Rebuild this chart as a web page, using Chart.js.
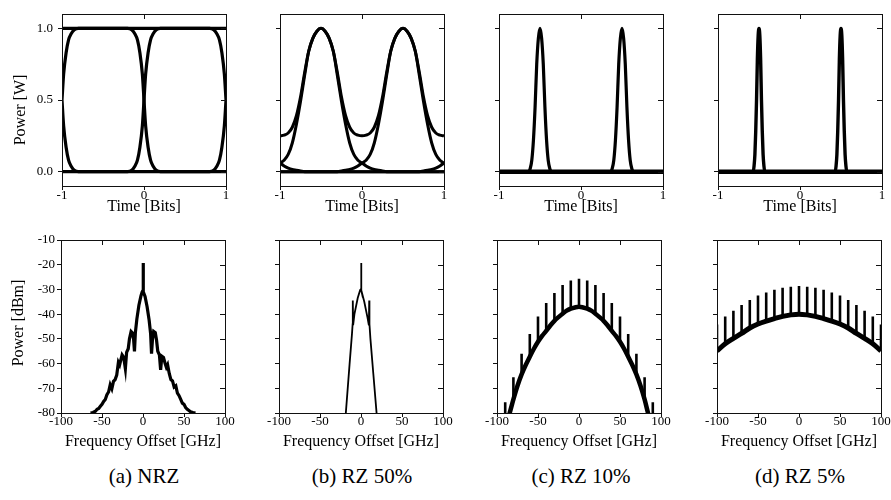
<!DOCTYPE html>
<html lang="en">
<head>
<meta charset="UTF-8">
<title>Eye diagrams and spectra</title>
<script src="https://cdn.jsdelivr.net/npm/chart.js"></script>
<style>
  body { margin: 0; width: 891px; height: 500px; position: relative; overflow: hidden; background: #fff; font-family: 'Liberation Serif', serif; }
  canvas { position: absolute; }
  .cap { position: absolute; top: 463px; width: 200px; text-align: center; font-size: 21px; line-height: 26px; color: #000; }
</style>
</head>
<body>
<div class="cap" style="left:44px">(a) NRZ</div>
<div class="cap" style="left:262px">(b) RZ 50%</div>
<div class="cap" style="left:481px">(c) RZ 10%</div>
<div class="cap" style="left:700px">(d) RZ 5%</div>
<script>
// ---- eye diagrams: power [W] vs time [bits] ----
const nrzTime = [-1, -0.98, -0.95, -0.92, -0.89, -0.85, -0.8, -0.2, -0.15, -0.11, -0.08, -0.05, -0.02, 0,
  0.02, 0.05, 0.08, 0.11, 0.15, 0.2, 0.8, 0.85, 0.89, 0.92, 0.95, 0.98, 1];
const nrzRise = [0.5, 0.68, 0.83, 0.92, 0.96, 0.99, 1, 1, 0.99, 0.96, 0.92, 0.83, 0.68, 0.5,
  0.32, 0.17, 0.08, 0.04, 0.01, 0, 0, 0.01, 0.04, 0.08, 0.17, 0.32, 0.5];
const nrzFall = [0.5, 0.32, 0.17, 0.08, 0.04, 0.01, 0, 0, 0.01, 0.04, 0.08, 0.17, 0.32, 0.5,
  0.68, 0.83, 0.92, 0.96, 0.99, 1, 1, 0.99, 0.96, 0.92, 0.83, 0.68, 0.5];

const rz50Time = [-1, -0.95, -0.9, -0.85, -0.8, -0.75, -0.7, -0.65, -0.6, -0.55, -0.5, -0.45, -0.4, -0.35,
  -0.3, -0.25, -0.2, -0.15, -0.1, -0.05, 0, 0.05, 0.1, 0.15, 0.2, 0.25, 0.3, 0.35, 0.4, 0.45, 0.5,
  0.55, 0.6, 0.65, 0.7, 0.75, 0.8, 0.85, 0.9, 0.95, 1];
const rz50Ones = [0.25, 0.255, 0.27, 0.31, 0.39, 0.52, 0.69, 0.84, 0.93, 0.98, 1, 0.98, 0.93, 0.84,
  0.69, 0.52, 0.39, 0.31, 0.27, 0.255, 0.25, 0.255, 0.27, 0.31, 0.39, 0.52, 0.69, 0.84, 0.93, 0.98, 1,
  0.98, 0.93, 0.84, 0.69, 0.52, 0.39, 0.31, 0.27, 0.255, 0.25];
const rz50First = [0.06, 0.08, 0.12, 0.2, 0.33, 0.49, 0.67, 0.84, 0.93, 0.98, 1, 0.98, 0.93, 0.84,
  0.67, 0.49, 0.33, 0.2, 0.12, 0.08, 0.06, 0.04, 0.025, 0.015, 0.01, 0.005, 0, 0, 0, 0, 0,
  0, 0, 0, 0, 0, 0, 0, 0, 0, 0];
const rz50Second = [0, 0, 0, 0, 0, 0, 0, 0, 0, 0, 0, 0, 0, 0, 0, 0.005, 0.01, 0.015, 0.025, 0.04,
  0.06, 0.08, 0.12, 0.2, 0.33, 0.49, 0.67, 0.84, 0.93, 0.98, 1, 0.98, 0.93, 0.84, 0.67, 0.49,
  0.33, 0.2, 0.12, 0.08, 0.06];
const rz50Tails = [0.06, 0.04, 0.025, 0.015, 0.01, 0.005, 0, 0, 0, 0, 0, 0, 0, 0, 0, 0, 0, 0, 0, 0,
  0, 0, 0, 0, 0, 0, 0, 0, 0, 0, 0, 0, 0, 0, 0, 0.005, 0.01, 0.015, 0.025, 0.04, 0.06];

const rz10Time = [-1, -0.64, -0.62, -0.6, -0.58, -0.56, -0.54, -0.52, -0.5, -0.48, -0.46, -0.44, -0.42,
  -0.4, -0.38, -0.36, 0.36, 0.38, 0.4, 0.42, 0.44, 0.46, 0.48, 0.5, 0.52, 0.54, 0.56, 0.58, 0.6,
  0.62, 0.64, 1];
const rz10Pulse = [0, 0, 0.02, 0.08, 0.22, 0.45, 0.75, 0.93, 1, 0.93, 0.75, 0.45, 0.22, 0.08, 0.02, 0,
  0, 0.02, 0.08, 0.22, 0.45, 0.75, 0.93, 1, 0.93, 0.75, 0.45, 0.22, 0.08, 0.02, 0, 0];

const rz5Time = [-1, -0.57, -0.56, -0.55, -0.54, -0.53, -0.52, -0.51, -0.5, -0.49, -0.48, -0.47, -0.46,
  -0.45, -0.44, -0.43, 0.43, 0.44, 0.45, 0.46, 0.47, 0.48, 0.49, 0.5, 0.51, 0.52, 0.53, 0.54, 0.55,
  0.56, 0.57, 1];
const rz5Pulse = [0, 0, 0.04, 0.12, 0.28, 0.5, 0.78, 0.95, 1, 0.95, 0.78, 0.5, 0.28, 0.12, 0.04, 0,
  0, 0.04, 0.12, 0.28, 0.5, 0.78, 0.95, 1, 0.95, 0.78, 0.5, 0.28, 0.12, 0.04, 0, 0];

// ---- spectra: power [dBm] vs frequency offset [GHz] ----
const nrzFreq = [-64, -61, -58, -56, -54, -52, -50, -48, -46, -44, -42, -40, -38, -36, -34, -32, -30,
  -28.5, -27, -25.5, -23.5, -21.5, -20, -18, -16.5, -14.5, -13, -11.5, -10.4, -9.3, -7.5, -5, -2.5, -1,
  0, 0, 0, 1, 2.5, 5, 7.5, 9.3, 10.4, 11.5, 13, 15, 16.5, 18, 20, 21.5, 23, 25, 27, 28.5, 30, 32, 34,
  36, 38, 40, 42, 44, 46, 48, 50, 52, 54, 56, 58, 61, 64];
const nrzPower = [-80, -79.8, -79.3, -78.5, -78.2, -77.3, -76.5, -75.3, -74.5, -72.6, -71.5, -68.6, -70.2,
  -67.2, -66.5, -64.6, -59.5, -60.5, -58.5, -56.5, -57.5, -62, -55.5, -54, -50, -47, -47.5, -50, -55.1,
  -47.5, -42, -36.4, -32.6, -31, -30.4, -19.3, -30.4, -31, -32.8, -37, -42.5, -48, -56, -50.5, -47,
  -47.5, -50.5, -55, -56.5, -62.5, -57, -57.5, -60, -61.5, -60.5, -64, -66.5, -67, -69.5, -69, -72,
  -73, -74.5, -76, -76.5, -77.8, -78.5, -79, -79.5, -79.8, -80];

const rz50Freq = [-18.5, -14, -11, -10.2, -10, -9.6, -8, -4, -1, 0, 0, 0, 1, 4, 8, 9.6, 10, 10.3, 11.5, 15, 19];
const rz50Power = [-80, -60.5, -48, -44, -34.5, -44.5, -40, -33.5, -30.2, -29.8, -19.3, -29.8, -30.3, -35,
  -41.5, -44.5, -34.5, -44, -50, -64, -80];

const rz10EnvFreq = [-90, -85, -80, -75, -70, -65, -60, -55, -50, -45, -40, -35, -30, -25, -20, -15, -10,
  -5, 0, 5, 10, 15, 20, 25, 30, 35, 40, 45, 50, 55, 60, 65, 70, 75, 80, 85, 90];
const rz10EnvPower = [-85, -80.5, -74.5, -69, -64.4, -60.6, -57.2, -54, -51.2, -48.8, -46.8, -44.6, -42.7,
  -41.2, -39.8, -38.6, -37.8, -37.3, -37, -37.3, -37.8, -38.6, -39.8, -41.2, -42.7, -44.6, -46.8, -48.8,
  -51.2, -54, -57.2, -60.6, -64.4, -69, -74.5, -81, -85.5];
const rz10CombFreq = [-90, -80, -70, -60, -50, -40, -30, -20, -10, 0, 10, 20, 30, 40, 50, 60, 70, 80, 90];
const rz10CombPower = [-75.7, -65.5, -56, -48, -41, -35.5, -31.4, -28.2, -26.4, -25.7, -26.4, -28.2, -31.4,
  -35.5, -41, -48, -56, -65.5, -75.7];

const rz5EnvFreq = [-100, -90, -80, -70, -60, -50, -40, -30, -20, -10, 0, 10, 20, 30, 40, 50, 60, 70, 80, 90, 100];
const rz5EnvPower = [-54.9, -52, -49.8, -47.8, -45.6, -44, -42.8, -41.8, -40.9, -40.3, -40, -40.3, -40.9,
  -41.8, -42.8, -44, -45.6, -47.8, -49.8, -52, -54.9];
const rz5CombPower = [-44.2, -41, -38.6, -36.3, -34.3, -32.5, -31.2, -30.1, -29.3, -28.9, -28.6, -28.9,
  -29.3, -30.1, -31.2, -32.5, -34.3, -36.3, -38.6, -41, -44.2];

Chart.defaults.font.family = "'Liberation Serif', serif";
Chart.defaults.color = '#000';

function pts(xs, ys) {
  return xs.map(function (x, i) { return { x: x, y: ys[i] }; });
}

// vertical comb lines, each from the envelope up to the line's peak
function combLines(freqs, peaks, envFreq, envPower) {
  const out = [];
  freqs.forEach(function (f, i) {
    out.push({ x: f, y: envPower[envFreq.indexOf(f)] }, { x: f, y: peaks[i] }, { x: f, y: null });
  });
  return out;
}

function trace(data, width, smooth) {
  return {
    data: data, borderColor: '#000', borderWidth: width, pointRadius: 0, fill: false, clip: 0,
    tension: 0, cubicInterpolationMode: smooth ? 'monotone' : 'default', spanGaps: false
  };
}

// box around the plot area with inward ticks on the top and right edges
const framePlugin = {
  id: 'frame',
  afterDraw: function (chart) {
    const ctx = chart.ctx, a = chart.chartArea, x = chart.scales.x, y = chart.scales.y;
    ctx.save();
    ctx.strokeStyle = '#111';
    ctx.lineWidth = 1;
    ctx.strokeRect(Math.round(a.left) + 0.5, Math.round(a.top) + 0.5,
      Math.round(a.right - a.left), Math.round(a.bottom - a.top));
    ctx.beginPath();
    x.ticks.forEach(function (t) {
      const px = Math.round(x.getPixelForValue(t.value)) + 0.5;
      ctx.moveTo(px, a.top); ctx.lineTo(px, a.top + 5);
    });
    y.ticks.forEach(function (t) {
      const py = Math.round(y.getPixelForValue(t.value)) + 0.5;
      ctx.moveTo(a.right, py); ctx.lineTo(a.right - 5, py);
    });
    ctx.stroke();
    ctx.restore();
  }
};

// rotated y axis title placed at a fixed spot
const sideLabelPlugin = {
  id: 'sideLabel',
  afterDraw: function (chart, args, opts) {
    if (!opts || !opts.text) return;
    const ctx = chart.ctx;
    ctx.save();
    ctx.translate(opts.x, opts.y);
    ctx.rotate(-Math.PI / 2);
    ctx.font = "16px 'Liberation Serif'";
    ctx.fillStyle = '#000';
    ctx.textAlign = 'center';
    ctx.textBaseline = 'middle';
    ctx.fillText(opts.text, 0, 0);
    ctx.restore();
  }
};

const topRow = { lefts: [62, 280, 499, 718], top: 14, bottom: 186, canvasTop: 0, height: 216 };
const botRow = { lefts: [61, 279, 497, 717], top: 240, bottom: 413, canvasTop: 225, height: 226 };

function panel(row, i, datasets, xCfg, yCfg, yTitle) {
  const areaLeft = row.lefts[i];
  const cx = areaLeft - 62;
  const w = 62 + 164 + 14;
  const canvas = document.createElement('canvas');
  canvas.width = w;
  canvas.height = row.height;
  canvas.style.left = cx + 'px';
  canvas.style.top = row.canvasTop + 'px';
  document.body.appendChild(canvas);
  const xAxisHeight = row.height - (row.bottom - row.canvasTop);

  new Chart(canvas, {
    type: 'line',
    data: { datasets: datasets },
    options: {
      responsive: false,
      animation: false,
      events: [],
      layout: { padding: { top: row.top - row.canvasTop, right: 14, left: 0, bottom: 0 } },
      plugins: {
        legend: { display: false },
        tooltip: { enabled: false },
        sideLabel: yTitle ? { text: yTitle.text, x: yTitle.x - cx, y: yTitle.y - row.canvasTop } : {}
      },
      scales: {
        x: Object.assign({
          type: 'linear',
          border: { display: false },
          grid: { drawOnChartArea: false, drawTicks: true, tickLength: 4, color: '#111' },
          afterFit: function (s) { s.height = xAxisHeight; }
        }, xCfg),
        y: Object.assign({
          type: 'linear',
          border: { display: false },
          grid: { drawOnChartArea: false, drawTicks: true, tickLength: 4, color: '#111' },
          afterFit: function (s) { s.width = 62; }
        }, yCfg)
      }
    },
    plugins: [framePlugin, sideLabelPlugin]
  });
}

function eyeX() {
  return {
    min: -1, max: 1,
    ticks: { stepSize: 1, font: { size: 13 }, padding: -2, maxRotation: 0 },
    title: { display: true, text: 'Time [Bits]', font: { size: 16 }, padding: 0 }
  };
}
function eyeY(labels) {
  return {
    min: -0.1, max: 1.1,
    afterBuildTicks: function (s) { s.ticks = [0, 0.5, 1].map(function (v) { return { value: v }; }); },
    ticks: {
      display: labels, font: { size: 13 }, padding: 5,
      callback: function (v) { return Number(v).toFixed(1); }
    }
  };
}
function specX() {
  return {
    min: -100, max: 100,
    ticks: { stepSize: 50, font: { size: 13 }, padding: -3, maxRotation: 0 },
    title: { display: true, text: 'Frequency Offset [GHz]', font: { size: 16 }, padding: 0 }
  };
}
function specY(labels) {
  return {
    min: -80, max: -10,
    ticks: { stepSize: 10, display: labels, font: { size: 13 }, padding: 2 }
  };
}

const flatOne = [{ x: -1, y: 1 }, { x: 1, y: 1 }];
const flatZero = [{ x: -1, y: 0 }, { x: 1, y: 0 }];

// top row: eye diagrams
panel(topRow, 0, [
  trace(flatOne, 3.2), trace(flatZero, 3.2),
  trace(pts(nrzTime, nrzRise), 3.2, true), trace(pts(nrzTime, nrzFall), 3.2, true)
], eyeX(), eyeY(true), { text: 'Power [W]', x: 21, y: 110 });

panel(topRow, 1, [
  trace(flatZero, 3),
  trace(pts(rz50Time, rz50Tails), 3, true),
  trace(pts(rz50Time, rz50First), 3, true),
  trace(pts(rz50Time, rz50Second), 3, true),
  trace(pts(rz50Time, rz50Ones), 3, true)
], eyeX(), eyeY(false));

panel(topRow, 2, [
  trace(flatZero, 4.5),
  trace(pts(rz10Time, rz10Pulse), 3.2, true)
], eyeX(), eyeY(false));

panel(topRow, 3, [
  trace(flatZero, 4.5),
  trace(pts(rz5Time, rz5Pulse), 3.4, true)
], eyeX(), eyeY(false));

// bottom row: optical spectra
panel(botRow, 0, [
  trace(pts(nrzFreq, nrzPower), 3.2)
], specX(), specY(true), { text: 'Power [dBm]', x: 18.5, y: 323 });

panel(botRow, 1, [
  trace(pts(rz50Freq, rz50Power), 1.8)
], specX(), specY(false));

panel(botRow, 2, [
  trace(pts(rz10EnvFreq, rz10EnvPower), 4.5, true),
  trace(combLines(rz10CombFreq, rz10CombPower, rz10EnvFreq, rz10EnvPower), 2.6)
], specX(), specY(false));

panel(botRow, 3, [
  trace(pts(rz5EnvFreq, rz5EnvPower), 5, true),
  trace(combLines(rz5EnvFreq, rz5CombPower, rz5EnvFreq, rz5EnvPower), 2.6)
], specX(), specY(false));
</script>
</body>
</html>
